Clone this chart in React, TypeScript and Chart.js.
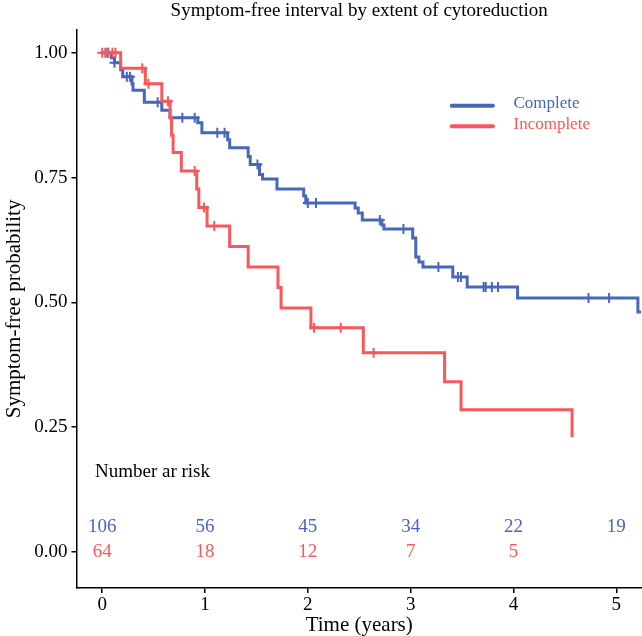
import { useEffect, useRef } from "react";
import { Chart, registerables } from "chart.js";

Chart.register(...registerables);

const BLUE = "#4767BD";
const RED = "#F8585B";
const FONT = "'Liberation Serif', 'Times New Roman', serif";

const titleText = "Symptom-free interval by extent of cytoreduction";
const seriesNames = ["Complete", "Incomplete"];

// Kaplan-Meier step data: time (years) and survival after each drop
const completeTimes = [0, 0.09, 0.12, 0.18, 0.2, 0.29, 0.3, 0.41, 0.58, 0.66, 0.93, 0.97, 1.22, 1.24, 1.42, 1.44, 1.53, 1.56, 1.7, 1.96, 1.98, 2.46, 2.49, 2.53, 2.72, 2.74, 3.02, 3.05, 3.08, 3.12, 3.41, 3.55, 4.04, 5.21, 5.24];
const completeSurv = [1.0, 0.99, 0.98, 0.966, 0.952, 0.938, 0.925, 0.901, 0.885, 0.87, 0.86, 0.84, 0.826, 0.81, 0.792, 0.776, 0.756, 0.747, 0.727, 0.713, 0.699, 0.689, 0.679, 0.665, 0.655, 0.647, 0.629, 0.591, 0.581, 0.571, 0.551, 0.531, 0.509, 0.481, 0.481];
const completeCensor = [0.05, 0.12, 0.24, 0.27, 0.54, 0.78, 0.9, 1.12, 1.19, 1.51, 2.0, 2.08, 2.7, 2.93, 3.27, 3.46, 3.49, 3.71, 3.73, 3.79, 3.85, 4.73, 4.93];

const incompleteTimes = [0, 0.18, 0.42, 0.58, 0.66, 0.675, 0.69, 0.77, 0.92, 0.94, 1.02, 1.24, 1.42, 1.71, 1.74, 2.03, 2.54, 3.33, 3.49, 4.57];
const incompleteSurv = [1.0, 0.969, 0.938, 0.903, 0.87, 0.835, 0.8, 0.763, 0.727, 0.69, 0.653, 0.612, 0.571, 0.53, 0.489, 0.449, 0.399, 0.341, 0.285, 0.23];
const incompleteCensor = [0.0, 0.03, 0.06, 0.1, 0.13, 0.39, 0.45, 0.64, 0.9, 0.99, 1.09, 2.06, 2.32, 2.64];

const riskTimes = [0, 1, 2, 3, 4, 5];
const riskComplete = [106, 56, 45, 34, 22, 19];
const riskIncomplete = [64, 18, 12, 7, 5];
const riskHeader = "Number ar risk";

const xTicks = [0, 1, 2, 3, 4, 5];
const yTicks = [0, 0.25, 0.5, 0.75, 1.0];

function stepAt(times: number[], surv: number[], t: number) {
  let v = surv[0];
  for (let i = 0; i < times.length; i++) if (times[i] <= t) v = surv[i];
  return v;
}

export default function App() {
  const ref = useRef<HTMLCanvasElement | null>(null);
  useEffect(() => {
    document.body.style.margin = "0";
    const canvas = ref.current;
    if (!canvas) return;

    const overlay = {
      id: "overlay",
      afterDatasetsDraw(chart: any) {
        const ctx = chart.ctx;
        const xs = chart.scales.x;
        const ys = chart.scales.y;
        ctx.save();
        // risk table
        ctx.font = `19px ${FONT}`;
        ctx.textBaseline = "middle";
        ctx.textAlign = "left";
        ctx.fillStyle = "#000";
        ctx.fillText(riskHeader, xs.getPixelForValue(-0.07), ys.getPixelForValue(0.16));
        ctx.textAlign = "center";
        ctx.fillStyle = BLUE;
        riskComplete.forEach((n, i) => ctx.fillText(String(n), xs.getPixelForValue(riskTimes[i]), ys.getPixelForValue(0.05)));
        ctx.fillStyle = RED;
        riskIncomplete.forEach((n, i) => ctx.fillText(String(n), xs.getPixelForValue(riskTimes[i]), ys.getPixelForValue(0.0)));
        // legend
        const colors = [BLUE, RED];
        const ly = [0.894, 0.853];
        ctx.font = `17px ${FONT}`;
        ctx.textAlign = "left";
        colors.forEach((c, i) => {
          const y = ys.getPixelForValue(ly[i]);
          ctx.strokeStyle = c;
          ctx.lineWidth = 4;
          ctx.lineCap = "round";
          ctx.beginPath();
          ctx.moveTo(xs.getPixelForValue(3.4), y);
          ctx.lineTo(xs.getPixelForValue(3.8), y);
          ctx.stroke();
          ctx.fillStyle = c;
          ctx.fillText(seriesNames[i], xs.getPixelForValue(4.0), y - 2);
        });
        ctx.restore();
      },
    };

    const chart = new Chart(canvas, {
      type: "line",
      data: {
        datasets: [
          {
            label: seriesNames[1],
            data: incompleteTimes.map((t, i) => ({ x: t, y: incompleteSurv[i] })),
            borderColor: RED,
            borderWidth: 3,
            stepped: true,
            pointRadius: 0,
            fill: false,
            order: 1,
          },
          {
            label: seriesNames[1] + " censored",
            type: "scatter",
            data: incompleteCensor.map((t) => ({ x: t, y: stepAt(incompleteTimes, incompleteSurv, t) })),
            pointStyle: "cross",
            pointRadius: 5,
            borderColor: RED,
            borderWidth: 2,
            order: 0,
          },
          {
            label: seriesNames[0],
            data: completeTimes.map((t, i) => ({ x: t, y: completeSurv[i] })),
            borderColor: BLUE,
            borderWidth: 3,
            stepped: true,
            pointRadius: 0,
            fill: false,
            order: 3,
          },
          {
            label: seriesNames[0] + " censored",
            type: "scatter",
            data: completeCensor.map((t) => ({ x: t, y: stepAt(completeTimes, completeSurv, t) })),
            pointStyle: "cross",
            pointRadius: 5,
            borderColor: BLUE,
            borderWidth: 2,
            order: 2,
          },
        ] as any,
      },
      options: {
        responsive: false,
        animation: false,
        devicePixelRatio: 1,
        layout: { autoPadding: false, padding: { left: 0, right: 0, top: 0, bottom: 0 } },
        plugins: {
          legend: { display: false },
          tooltip: { enabled: false },
          title: {
            display: true,
            text: titleText,
            fullSize: false,
            color: "#000",
            font: { family: FONT, size: 19, weight: "normal", lineHeight: 1.2 },
            padding: { top: 0, bottom: 7 },
          },
        },
        scales: {
          x: {
            type: "linear",
            min: -0.25,
            max: 5.25,
            afterBuildTicks: (s: any) => {
              s.ticks = xTicks.map((v) => ({ value: v }));
            },
            afterFit: (s: any) => {
              s.height = 48;
            },
            grid: { display: true, drawOnChartArea: false, drawTicks: true, tickLength: 5, color: "#000", lineWidth: 1.5 },
            border: { display: true, color: "#000", width: 1.5 },
            ticks: { color: "#000", padding: 3, font: { family: FONT, size: 19, lineHeight: 1 }, callback: (v: any) => String(v) },
            title: { display: true, text: "Time (years)", color: "#000", font: { family: FONT, size: 21, lineHeight: 1 }, padding: { top: 1, bottom: 0 } },
          },
          y: {
            type: "linear",
            min: -0.072,
            max: 1.046,
            afterBuildTicks: (s: any) => {
              s.ticks = yTicks.map((v) => ({ value: v }));
            },
            grid: { display: true, drawOnChartArea: false, drawTicks: true, tickLength: 5, color: "#000", lineWidth: 1.5 },
            border: { display: true, color: "#000", width: 1.5 },
            ticks: { color: "#000", padding: 4, font: { family: FONT, size: 19 }, callback: (v: any) => Number(v).toFixed(2) },
            title: { display: true, text: "Symptom-free probability", color: "#000", font: { family: FONT, size: 21, lineHeight: 1.2 }, padding: { top: 2, bottom: 3 } },
          },
        },
      },
      plugins: [overlay],
    });
    return () => chart.destroy();
  }, []);

  return (
    <div style={{ width: 642, height: 636 }}>
      <canvas ref={ref} width={642} height={636} style={{ display: "block" }} />
    </div>
  );
}
